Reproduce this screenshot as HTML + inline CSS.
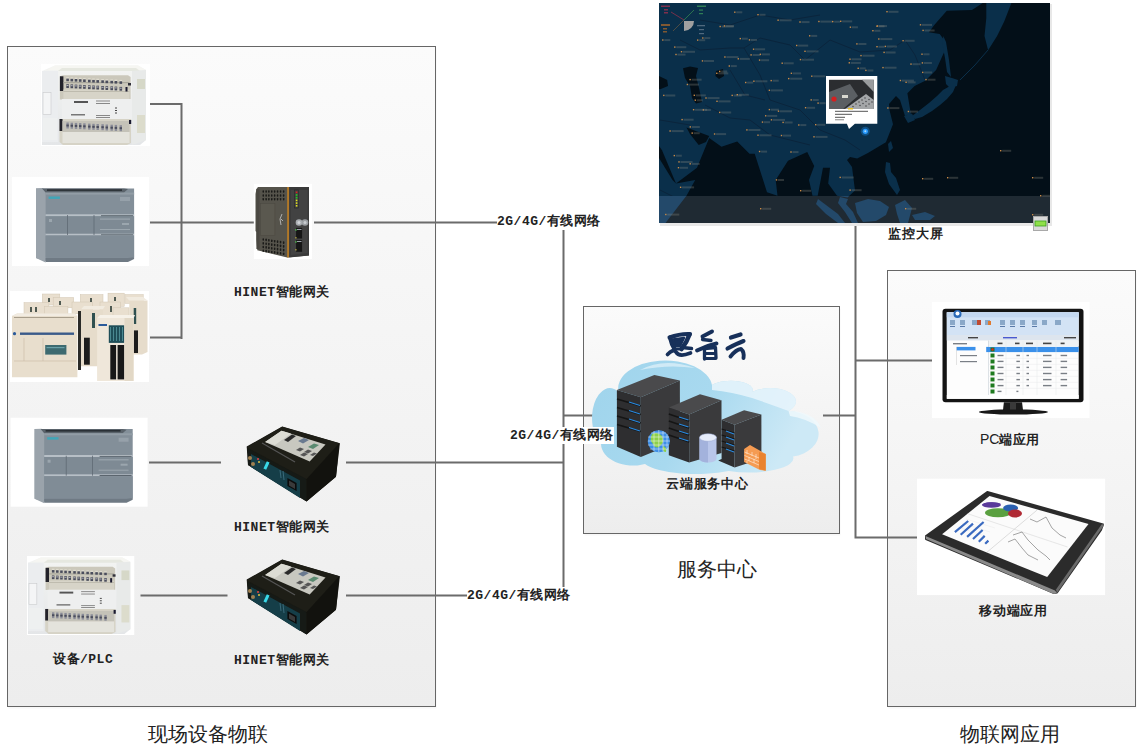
<!DOCTYPE html>
<html><head><meta charset="utf-8">
<style>
html,body{margin:0;padding:0;background:#fff;width:1143px;height:752px;overflow:hidden;position:relative}
.t{position:absolute;white-space:nowrap;color:#222;font-family:"Liberation Mono",monospace;font-weight:bold;font-size:13px;line-height:16px;letter-spacing:0.5px}
.big{position:absolute;white-space:nowrap;color:#222;font-family:"Liberation Serif",serif;font-size:20px;line-height:22px}
.lbl{background:#fff}
svg{position:absolute;left:0;top:0}
</style></head><body>
<svg width="1143" height="752" viewBox="0 0 1143 752">
<defs>
<linearGradient id="pg" x1="0" y1="0" x2="0" y2="1">
<stop offset="0" stop-color="#fbfbfb"/><stop offset="1" stop-color="#ededed"/>
</linearGradient>
</defs>
<!-- panels -->
<rect x="8.5" y="48.5" width="428" height="660" fill="#f4f4f4" opacity="0.6"/>
<rect x="7.5" y="46.5" width="428" height="660" fill="url(#pg)" stroke="#666" stroke-width="1"/>
<rect x="584.5" y="308.5" width="256" height="227" fill="#f4f4f4" opacity="0.6"/>
<rect x="583.5" y="306.5" width="256" height="227" fill="url(#pg)" stroke="#666" stroke-width="1"/>
<rect x="888.5" y="272.5" width="248" height="436" fill="#f4f4f4" opacity="0.6"/>
<rect x="887.5" y="270.5" width="248" height="436" fill="url(#pg)" stroke="#666" stroke-width="1"/>
<!-- lines -->
<g stroke="#6b6b6b" stroke-width="2" fill="none">
<path d="M150 104 H182 M181.5 103 V339 M150 222.5 H254 M150 337.5 H182"/>
<path d="M314 222.5 H497 M563.5 222 V595 M563 415.5 H595"/>
<path d="M149 462.5 H221 M346 462.5 H563.5"/>
<path d="M140.5 595.5 H227.5 M346 595.5 H467"/>
<path d="M855.5 224 V538.5 M856 360.5 H934 M823 415.5 H856 M855 537.5 H917"/>
</g>
<!-- cloud -->
<defs>
<linearGradient id="cg" x1="0" y1="0" x2="1" y2="0.3">
<stop offset="0" stop-color="#9fd4ec"/><stop offset="0.55" stop-color="#a8d9ef"/><stop offset="1" stop-color="#cde9f6"/>
</linearGradient>
<linearGradient id="cg2" x1="0" y1="0" x2="0" y2="1">
<stop offset="0" stop-color="#ffffff" stop-opacity="0.85"/><stop offset="1" stop-color="#ffffff" stop-opacity="0"/>
</linearGradient>
</defs>
<path d="M601 444 A16 27 0 0 1 618.5 392 A47 28 0 0 1 712 385 A22 9 0 0 1 752 392 A21 11 0 0 1 788.5 411 A32 23 0 0 1 793 456.5 A45 14 0 0 1 728.7 471 A55 16 0 0 1 645 464 A32 22 0 0 1 601 444 Z" fill="url(#cg)"/>
<path d="M712 385 A22 9 0 0 1 752 392 A21 11 0 0 1 788.5 411 Q770 404 752 398 Q732 392 712 390 Z" fill="#e8f5fb" opacity="0.85"/>
<path d="M788.5 411 A32 23 0 0 1 821 428 Q805 418 790 416 Z" fill="#eef8fc" opacity="0.85"/>
<path d="M640 370 Q664 357 695 368 Q668 364 640 370 Z" fill="#e2f2fa" opacity="0.7"/>
<!-- server 1 -->
<path d="M616.9 390.1 L654.4 374.9 L679.9 380.5 L640.8 397.3 Z" fill="#4a4a4c"/>
<path d="M616.9 390.1 L640.8 397.3 V457.1 L616.9 446.7 Z" fill="#2e2e30"/>
<path d="M640.8 397.3 L679.9 380.5 V441 L640.8 457.1 Z" fill="#3a3a3c"/>
<g stroke="#151515" stroke-width="1.6"><path d="M617 399 L640.8 406 M617 407.5 L640.8 414.5 M617 416 L640.8 423 M617 424.5 L640.8 431.5"/></g>
<g stroke="#2a8ae0" stroke-width="1.3"><path d="M629 402 L640 405.5 M629 410.5 L640 414 M629 419 L640 422.5 M629 427.5 L640 431"/></g>
<!-- server 2 -->
<path d="M668.8 407.4 L700 394.2 L721.5 400.2 L689.2 414.6 Z" fill="#4a4a4c"/>
<path d="M668.8 407.4 L689.2 414.6 V462.5 L668.8 455.3 Z" fill="#2e2e30"/>
<path d="M689.2 414.6 L721.5 400.2 V452.9 L689.2 462.5 Z" fill="#3a3a3c"/>
<g stroke="#151515" stroke-width="1.4"><path d="M668.8 414 L689.2 421 M668.8 421 L689.2 428 M668.8 428 L689.2 435 M668.8 435 L689.2 442"/></g>
<g stroke="#2a8ae0" stroke-width="1.2"><path d="M679 417 L688.5 420 M679 424 L688.5 427 M679 431 L688.5 434 M679 438 L688.5 441"/></g>
<!-- server 3 -->
<path d="M721.6 419.8 L744.1 410.3 L761.4 414.6 L734.6 424.8 Z" fill="#4a4a4c"/>
<path d="M721.6 419.8 L734.6 424.8 V467.4 L718.2 460.4 L721.6 459 Z" fill="#2e2e30"/>
<path d="M734.6 424.8 L761.4 414.6 V458.7 L734.6 467.4 Z" fill="#3a3a3c"/>
<g stroke="#151515" stroke-width="1.2"><path d="M721.6 429 L734.6 433 M721.6 435 L734.6 439 M721.6 441 L734.6 445 M721.6 447 L734.6 451"/></g>
<g stroke="#2a8ae0" stroke-width="1.1"><path d="M726 431 L734 434 M726 437 L734 440 M726 443 L734 446 M726 449 L734 452"/></g>
<!-- globe -->
<circle cx="658.8" cy="441.2" r="11" fill="#3d8fe6"/>
<path d="M652 434 Q658 431 662 436 Q665 442 660 446 Q656 450 653 444 Q649 440 652 434 Z" fill="#8ed04a"/>
<path d="M663 446 Q667 447 666 452 Q662 452 663 446 Z" fill="#8ed04a"/>
<g stroke="#ffffff" stroke-width="0.6" fill="none" opacity="0.8"><path d="M648 437 H669 M648 441 H670 M648 445 H669 M650 449 H667 M651 433 H666"/><path d="M654 431 V451 M658.8 430 V452 M663 431 V451 M667 434 V448"/></g>
<!-- cylinder -->
<path d="M699.5 437.5 V459 A8.5 3.5 0 0 0 716.5 459 V437.5 Z" fill="#b9c6ea"/>
<path d="M699.5 437.5 V459 A8.5 3.5 0 0 0 708 462.5 V441 A8.5 3.5 0 0 1 699.5 437.5 Z" fill="#a3b2dc"/>
<ellipse cx="708" cy="437.5" rx="8.5" ry="3.8" fill="#e6ecfa" stroke="#9aa8d0" stroke-width="0.5"/>
<!-- firewall -->
<path d="M744.1 449 L750 445 L765.7 454 V470.8 L760 470 L744.1 462 Z" fill="#f59b52"/>
<path d="M759 452 L765.7 454 V470.8 L759 469 Z" fill="#e9832f"/>
<g stroke="#fff0e0" stroke-width="0.6"><path d="M744.5 452 L759 458 M744.5 455.5 L759 461.5 M744.5 459 L759 465 M747 450 V454 M752 452 V456 M756 454 V459 M749 457 V461 M754 459 V463 M747 461 V463"/></g>
<!-- logo -->
<g stroke="#17305a" stroke-linecap="round" stroke-linejoin="round" fill="none">
<path d="M669.5 337.5 Q680 333.5 690 334" stroke-width="4.1"/>
<path d="M670 337.5 Q671.5 344.5 674.5 349" stroke-width="4.1"/>
<path d="M689.5 334.5 Q686.5 343 681.5 349" stroke-width="4.5"/>
<path d="M674.5 349 H681.5" stroke-width="2.9"/>
<path d="M673 339.5 L684 338 L680 346 L675 346 Z" fill="#17305a" stroke-width="2.4"/>
<path d="M667.5 354.5 Q673 348.5 676 352 Q679 357.5 690.5 353" stroke-width="3.7"/>
<path d="M682.5 347.5 L691.5 348.5" stroke-width="3.5"/>
<path d="M702.5 336.5 L712 331.5" stroke-width="3.9"/>
<path d="M702.5 339.5 L711 340.5" stroke-width="3.3"/>
<path d="M697 350.5 Q707 345.5 716.5 343.5" stroke-width="3.9"/>
<path d="M704.5 348.5 V359" stroke-width="3.3"/>
<path d="M704.5 348.5 L715.5 347.5 L716 358" stroke-width="3.3"/>
<path d="M704.5 353.5 H715.5 M704.5 358.5 H715.5" stroke-width="2.9"/>
<path d="M731 337.5 L740.5 334.5" stroke-width="4.3"/>
<path d="M727.5 348.5 Q737 343.5 743.5 341" stroke-width="4.1"/>
<path d="M730.5 356.5 Q736 349.5 741 349 Q744.5 352 743.5 358" stroke-width="3.9"/>
</g>
<!-- image placeholders -->
<defs>
<linearGradient id="mbody" x1="0" y1="0" x2="0" y2="1"><stop offset="0" stop-color="#f3f4f2"/><stop offset="1" stop-color="#e4e6e8"/></linearGradient>
</defs>
<g id="mitsu">
<rect x="41" y="64" width="109" height="82" fill="#fff"/>
<path d="M42 71 L55 65.5 H138 L146 70 V140 L140 145 H42 Z" fill="url(#mbody)"/>
<path d="M55 65.5 H138 L146 70 H47 Z" fill="#f6f6f2"/>
<path d="M62 68 H136 L140 71 H58 Z" fill="#e0e2d8" opacity="0.7"/>
<rect x="42" y="71" width="16" height="71" fill="#ebedef"/>
<rect x="43" y="92.5" width="8" height="22" fill="#f4f5f6" stroke="#c8cacc" stroke-width="0.6"/>
<rect x="43" y="118" width="14" height="22" fill="#eef0f0"/>
<!-- top strip -->
<path d="M59.9 76.3 L63 75.2 H128 L130.6 77 V99.4 H59.9 Z" fill="#cbc8bb"/>
<rect x="59.9" y="76.3" width="3.5" height="14.7" fill="#22222a"/>
<rect x="63.4" y="82" width="66" height="1.2" fill="#a9a79c"/>
<rect x="63.4" y="89.5" width="66" height="9.9" fill="#d7d4c8"/>
<rect x="63.4" y="91" width="66" height="0.8" fill="#b8b5a8"/>
<rect x="66.3" y="77.2" width="2.6" height="1.6" fill="#e0ddd0"/><rect x="66.3" y="78.6" width="2.6" height="2.6" fill="#4a4d5c"/><rect x="66.3" y="84.2" width="2.6" height="3.8" fill="#4a4d5c"/><rect x="66.5" y="85.0" width="2" height="1" fill="#b8b8c0"/><rect x="70.5" y="77.4" width="2.6" height="1.6" fill="#e0ddd0"/><rect x="70.5" y="78.8" width="2.6" height="2.6" fill="#4a4d5c"/><rect x="70.5" y="84.4" width="2.6" height="3.8" fill="#4a4d5c"/><rect x="70.7" y="85.2" width="2" height="1" fill="#b8b8c0"/><rect x="74.7" y="77.6" width="2.6" height="1.6" fill="#e0ddd0"/><rect x="74.7" y="79.0" width="2.6" height="2.6" fill="#4a4d5c"/><rect x="74.7" y="84.6" width="2.6" height="3.8" fill="#4a4d5c"/><rect x="74.9" y="85.4" width="2" height="1" fill="#b8b8c0"/><rect x="78.9" y="77.8" width="2.6" height="1.6" fill="#e0ddd0"/><rect x="78.9" y="79.2" width="2.6" height="2.6" fill="#4a4d5c"/><rect x="78.9" y="84.8" width="2.6" height="3.8" fill="#4a4d5c"/><rect x="79.1" y="85.6" width="2" height="1" fill="#b8b8c0"/><rect x="83.1" y="78.0" width="2.6" height="1.6" fill="#e0ddd0"/><rect x="83.1" y="79.4" width="2.6" height="2.6" fill="#4a4d5c"/><rect x="83.1" y="85.0" width="2.6" height="3.8" fill="#4a4d5c"/><rect x="83.3" y="85.8" width="2" height="1" fill="#b8b8c0"/><rect x="88.0" y="78.3" width="2.6" height="1.6" fill="#e0ddd0"/><rect x="88.0" y="79.7" width="2.6" height="2.6" fill="#4a4d5c"/><rect x="88.0" y="85.3" width="2.6" height="3.8" fill="#4a4d5c"/><rect x="88.2" y="86.1" width="2" height="1" fill="#b8b8c0"/><rect x="92.2" y="78.5" width="2.6" height="1.6" fill="#e0ddd0"/><rect x="92.2" y="79.9" width="2.6" height="2.6" fill="#4a4d5c"/><rect x="92.2" y="85.5" width="2.6" height="3.8" fill="#4a4d5c"/><rect x="92.4" y="86.3" width="2" height="1" fill="#b8b8c0"/><rect x="96.4" y="78.7" width="2.6" height="1.6" fill="#e0ddd0"/><rect x="96.4" y="80.1" width="2.6" height="2.6" fill="#4a4d5c"/><rect x="96.4" y="85.7" width="2.6" height="3.8" fill="#4a4d5c"/><rect x="96.6" y="86.5" width="2" height="1" fill="#b8b8c0"/><rect x="101.3" y="79.0" width="2.6" height="1.6" fill="#e0ddd0"/><rect x="101.3" y="80.3" width="2.6" height="2.6" fill="#4a4d5c"/><rect x="101.3" y="86.0" width="2.6" height="3.8" fill="#4a4d5c"/><rect x="101.5" y="86.8" width="2" height="1" fill="#b8b8c0"/><rect x="105.5" y="79.2" width="2.6" height="1.6" fill="#e0ddd0"/><rect x="105.5" y="80.6" width="2.6" height="2.6" fill="#4a4d5c"/><rect x="105.5" y="86.2" width="2.6" height="3.8" fill="#4a4d5c"/><rect x="105.7" y="87.0" width="2" height="1" fill="#b8b8c0"/><rect x="110.4" y="79.4" width="2.6" height="1.6" fill="#e0ddd0"/><rect x="110.4" y="80.8" width="2.6" height="2.6" fill="#4a4d5c"/><rect x="110.4" y="86.4" width="2.6" height="3.8" fill="#4a4d5c"/><rect x="110.6" y="87.2" width="2" height="1" fill="#b8b8c0"/><rect x="114.6" y="79.6" width="2.6" height="1.6" fill="#e0ddd0"/><rect x="114.6" y="81.0" width="2.6" height="2.6" fill="#4a4d5c"/><rect x="114.6" y="86.6" width="2.6" height="3.8" fill="#4a4d5c"/><rect x="114.8" y="87.4" width="2" height="1" fill="#b8b8c0"/><rect x="119.5" y="79.9" width="2.6" height="1.6" fill="#e0ddd0"/><rect x="119.5" y="81.3" width="2.6" height="2.6" fill="#4a4d5c"/><rect x="119.5" y="86.9" width="2.6" height="3.8" fill="#4a4d5c"/><rect x="119.7" y="87.7" width="2" height="1" fill="#b8b8c0"/>
<rect x="125.5" y="87" width="2" height="4.5" fill="#1a1a30"/>
<rect x="128" y="83" width="3" height="2.5" fill="#30303a"/>
<!-- middle face -->
<rect x="62" y="99" width="70" height="20" fill="#eeefef"/>
<rect x="74" y="101" width="14" height="2" fill="#555"/>
<g fill="#888"><rect x="96" y="100.5" width="14" height="1"/><rect x="96" y="103" width="14" height="1"/><rect x="96" y="115" width="14" height="1"/><rect x="96" y="117" width="14" height="1"/></g>
<g fill="#444"><rect x="115" y="107.5" width="2" height="1"/><rect x="115" y="110" width="2" height="1"/><rect x="115" y="112.5" width="2" height="1"/></g>
<rect x="71" y="114" width="14" height="1.5" fill="#777"/>
<!-- bottom strip -->
<path d="M59.5 119 H131 V143 L127 145 H63 L59.5 142 Z" fill="#d6d3c6"/>
<rect x="59.5" y="119" width="3" height="12" fill="#22222a"/>
<rect x="62.5" y="121" width="67" height="11" fill="#c4c2b8"/>
<rect x="66.4" y="122.5" width="2.4" height="6" fill="#8a8c98"/><rect x="66.4" y="124.5" width="2.4" height="2" fill="#4a4d5c"/><rect x="70.6" y="122.7" width="2.4" height="6" fill="#8a8c98"/><rect x="70.6" y="124.7" width="2.4" height="2" fill="#4a4d5c"/><rect x="74.8" y="122.9" width="2.4" height="6" fill="#8a8c98"/><rect x="74.8" y="124.9" width="2.4" height="2" fill="#4a4d5c"/><rect x="79.0" y="123.1" width="2.4" height="6" fill="#8a8c98"/><rect x="79.0" y="125.1" width="2.4" height="2" fill="#4a4d5c"/><rect x="83.2" y="123.3" width="2.4" height="6" fill="#8a8c98"/><rect x="83.2" y="125.3" width="2.4" height="2" fill="#4a4d5c"/><rect x="88.1" y="123.6" width="2.4" height="6" fill="#8a8c98"/><rect x="88.1" y="125.6" width="2.4" height="2" fill="#4a4d5c"/><rect x="92.3" y="123.8" width="2.4" height="6" fill="#8a8c98"/><rect x="92.3" y="125.8" width="2.4" height="2" fill="#4a4d5c"/><rect x="96.5" y="124.0" width="2.4" height="6" fill="#8a8c98"/><rect x="96.5" y="126.0" width="2.4" height="2" fill="#4a4d5c"/><rect x="101.4" y="124.2" width="2.4" height="6" fill="#8a8c98"/><rect x="101.4" y="126.2" width="2.4" height="2" fill="#4a4d5c"/><rect x="105.6" y="124.5" width="2.4" height="6" fill="#8a8c98"/><rect x="105.6" y="126.5" width="2.4" height="2" fill="#4a4d5c"/><rect x="110.5" y="124.7" width="2.4" height="6" fill="#8a8c98"/><rect x="110.5" y="126.7" width="2.4" height="2" fill="#4a4d5c"/><rect x="114.7" y="124.9" width="2.4" height="6" fill="#8a8c98"/><rect x="114.7" y="126.9" width="2.4" height="2" fill="#4a4d5c"/><rect x="119.6" y="125.2" width="2.4" height="6" fill="#8a8c98"/><rect x="119.6" y="127.2" width="2.4" height="2" fill="#4a4d5c"/>
<rect x="62.5" y="132" width="67" height="11" fill="#e4e3dc"/>
<rect x="129" y="120" width="2.2" height="4" fill="#1a1a30"/>
<!-- right side -->
<path d="M132 71 L146 70 V140 L132 145 Z" fill="#e8eae9"/>
<rect x="137" y="79" width="8" height="10" fill="#d6d8c8"/>
<rect x="137" y="115" width="8" height="18" fill="#dcdccc"/>
</g>
<g id="siem">
<rect x="12" y="177" width="137" height="89" fill="#fff"/>
<path d="M36 188.4 H134.1 V257.2 L128 261 H45.6 L36 258 Z" fill="#838f99"/>
<path d="M36 188.4 L43 188 L45.6 192 V262.6 L36 258 Z" fill="#9aa3ab"/>
<path d="M42 188.4 H124 L128 189 L124 192.6 H45.6 Z" fill="#5a636b"/><g fill="#2a3036"><rect x="47" y="189.3" width="75" height="1.6"/></g>
<rect x="45.6" y="192.6" width="88.5" height="2" fill="#929da6"/>
<rect x="48.6" y="196.5" width="11.3" height="2.4" fill="#3fa6b8"/>
<rect x="120" y="197" width="10" height="4" fill="#9ea8b0" opacity="0.7"/>
<rect x="45.6" y="214.3" width="88.5" height="2" fill="#b7bfc6"/>
<rect x="45.6" y="233.5" width="88.5" height="2" fill="#b7bfc6"/>
<rect x="45.6" y="216.3" width="88.5" height="17.2" fill="#7e8a94"/>
<rect x="67.2" y="215" width="0.8" height="20" fill="#5f6a74"/>
<rect x="93.6" y="215" width="0.8" height="20" fill="#5f6a74"/>
<g fill="#5b656e"><rect x="101" y="215.2" width="32" height="1"/><rect x="101" y="234.3" width="32" height="1"/></g>
<g fill="#a8b2ba" opacity="0.7"><rect x="100" y="218.5" width="30" height="1.2"/><rect x="122" y="223" width="7" height="2"/><rect x="100" y="229" width="30" height="1"/><rect x="49" y="219" width="3" height="3"/></g>
<rect x="45.6" y="235.5" width="88.5" height="22" fill="#808c96"/>
<path d="M45.6 258 H128 L134.1 257.2 V259 L128 262 H45.6 Z" fill="#6f7a84"/>
</g>
<g id="gwbox">
<path d="M246.7 446.5 L282.2 426.5 L339.9 443.2 L336 476.7 L306.5 501.6 L248 464.9 Z" fill="#1a1a14"/>
<path d="M246.7 447.2 L282.2 426.8 L339.3 443.2 L306.5 479.3 Z" fill="#1e1e17"/>
<path d="M247.4 448.5 L306.5 479.3 V501.6 L248 464.9 Z" fill="#161a16"/>
<path d="M251 454 L300 480.5 V498 L251 467 Z" fill="#153e48"/>
<path d="M306.5 479.3 L339.3 443.2 L336 476.7 L306.5 501.6 Z" fill="#12120e"/>
<path d="M265.1 441.9 L281.5 430.7 L325.5 444.5 L309.7 461.6 Z" fill="#c8c8c0"/>
<path d="M265.1 441.9 L281.5 430.7 L291 433.5 L275 445 Z" fill="#dcdcd4"/>
<path d="M284 440 L292 434.5 L296 436 L288 442 Z" fill="#2a2a2a"/>
<path d="M298 441 L304 438 L309 440 L303 443.5 Z" fill="#6a7a90"/>
<path d="M308 447 L314 443.5 L319 445 L313 449 Z" fill="#5a8a70"/><g fill="#555"><path d="M296 450 L300 447.5 L304 449 L300 451.5 Z"/><path d="M304 452 L308 449.5 L312 451 L308 453.5 Z"/><path d="M300 455 L304 452.5 L308 454 L304 456.5 Z"/><path d="M310 455 L314 452.5 L317 453.5 L313 456 Z"/></g>
<path d="M262 443 L295 462" stroke="#555" stroke-width="1.2"/>
<rect x="265" y="461.6" width="3" height="8" fill="#3ad8e8" transform="rotate(25 266.5 465.6)"/>
<path d="M287.4 478 L296.6 483 V491 L287.4 486 Z" fill="#0c0c0c"/>
<path d="M289 480.5 L295 484 V489 L289 485.5 Z" fill="#3a3a3a"/>
<circle cx="250" cy="458" r="2" fill="#a08050"/>
<circle cx="253" cy="464" r="2" fill="#a08050"/>
<circle cx="258" cy="459" r="1" fill="#e04040"/>
<circle cx="259" cy="462" r="1" fill="#e0c040"/>
<g stroke="#3a6a7a" stroke-width="1"><path d="M280 470 L281 478 M283 471 L284 480"/></g>
</g>
<g id="gwdin">
<rect x="253.8" y="183.8" width="58.2" height="75.2" fill="#fff"/>
<path d="M258 187 H309 V255.5 L287.1 257.5 L257.3 250.2 L256.4 240 V232 L255.5 231 V194 L256.4 189 Z" fill="#55534b"/>
<path d="M289.2 187 H309 V255.5 L289.2 257.5 Z" fill="#3a3a3a"/>
<path d="M291 190 H307.5 V253 L291 255 Z" fill="#424242"/>
<rect x="287.1" y="187" width="1.9" height="70.5" fill="#b07828"/>
<rect x="256.4" y="189" width="3" height="60" fill="#4a4842"/>
<g fill="#1a1a18"><rect x="262.5" y="190.2" width="1.5" height="2.6" rx="0.7"/><rect x="262.5" y="194.2" width="1.5" height="2.6" rx="0.7"/><rect x="262.5" y="197.9" width="1.5" height="2.6" rx="0.7"/><rect x="265.4" y="190.2" width="1.5" height="2.6" rx="0.7"/><rect x="265.4" y="194.2" width="1.5" height="2.6" rx="0.7"/><rect x="265.4" y="197.9" width="1.5" height="2.6" rx="0.7"/><rect x="268.1" y="190.2" width="1.5" height="2.6" rx="0.7"/><rect x="268.1" y="194.2" width="1.5" height="2.6" rx="0.7"/><rect x="268.1" y="197.9" width="1.5" height="2.6" rx="0.7"/><rect x="271.0" y="190.2" width="1.5" height="2.6" rx="0.7"/><rect x="271.0" y="194.2" width="1.5" height="2.6" rx="0.7"/><rect x="271.0" y="197.9" width="1.5" height="2.6" rx="0.7"/><rect x="273.9" y="190.2" width="1.5" height="2.6" rx="0.7"/><rect x="273.9" y="194.2" width="1.5" height="2.6" rx="0.7"/><rect x="273.9" y="197.9" width="1.5" height="2.6" rx="0.7"/><rect x="276.8" y="190.2" width="1.5" height="2.6" rx="0.7"/><rect x="276.8" y="194.2" width="1.5" height="2.6" rx="0.7"/><rect x="276.8" y="197.9" width="1.5" height="2.6" rx="0.7"/><rect x="279.8" y="190.2" width="1.5" height="2.6" rx="0.7"/><rect x="279.8" y="194.2" width="1.5" height="2.6" rx="0.7"/><rect x="279.8" y="197.9" width="1.5" height="2.6" rx="0.7"/><rect x="282.9" y="190.2" width="1.5" height="2.6" rx="0.7"/><rect x="282.9" y="194.2" width="1.5" height="2.6" rx="0.7"/><rect x="282.9" y="197.9" width="1.5" height="2.6" rx="0.7"/><rect x="262.5" y="238.2" width="1.5" height="2.6" rx="0.7"/><rect x="262.5" y="242.0" width="1.5" height="2.6" rx="0.7"/><rect x="262.5" y="245.7" width="1.5" height="2.6" rx="0.7"/><rect x="262.5" y="249.4" width="1.5" height="2.6" rx="0.7"/><rect x="265.4" y="238.6" width="1.5" height="2.6" rx="0.7"/><rect x="265.4" y="242.4" width="1.5" height="2.6" rx="0.7"/><rect x="265.4" y="246.1" width="1.5" height="2.6" rx="0.7"/><rect x="265.4" y="249.8" width="1.5" height="2.6" rx="0.7"/><rect x="268.1" y="239.0" width="1.5" height="2.6" rx="0.7"/><rect x="268.1" y="242.8" width="1.5" height="2.6" rx="0.7"/><rect x="268.1" y="246.5" width="1.5" height="2.6" rx="0.7"/><rect x="268.1" y="250.2" width="1.5" height="2.6" rx="0.7"/><rect x="271.0" y="239.5" width="1.5" height="2.6" rx="0.7"/><rect x="271.0" y="243.3" width="1.5" height="2.6" rx="0.7"/><rect x="271.0" y="247.0" width="1.5" height="2.6" rx="0.7"/><rect x="271.0" y="250.7" width="1.5" height="2.6" rx="0.7"/><rect x="273.9" y="239.9" width="1.5" height="2.6" rx="0.7"/><rect x="273.9" y="243.7" width="1.5" height="2.6" rx="0.7"/><rect x="273.9" y="247.4" width="1.5" height="2.6" rx="0.7"/><rect x="273.9" y="251.1" width="1.5" height="2.6" rx="0.7"/><rect x="276.8" y="240.3" width="1.5" height="2.6" rx="0.7"/><rect x="276.8" y="244.1" width="1.5" height="2.6" rx="0.7"/><rect x="276.8" y="247.8" width="1.5" height="2.6" rx="0.7"/><rect x="276.8" y="251.5" width="1.5" height="2.6" rx="0.7"/><rect x="279.8" y="240.8" width="1.5" height="2.6" rx="0.7"/><rect x="279.8" y="244.6" width="1.5" height="2.6" rx="0.7"/><rect x="279.8" y="248.3" width="1.5" height="2.6" rx="0.7"/><rect x="279.8" y="252.0" width="1.5" height="2.6" rx="0.7"/><rect x="282.9" y="241.3" width="1.5" height="2.6" rx="0.7"/><rect x="282.9" y="245.1" width="1.5" height="2.6" rx="0.7"/><rect x="282.9" y="248.8" width="1.5" height="2.6" rx="0.7"/><rect x="282.9" y="252.5" width="1.5" height="2.6" rx="0.7"/></g>
<rect x="260.5" y="203.7" width="14.4" height="32" fill="#5a584f" stroke="#4a4840" stroke-width="0.5"/>
<g><rect x="295.8" y="191.5" width="1.6" height="1.6" fill="#e02020"/><rect x="295.8" y="194.2" width="1.6" height="1.6" fill="#20d020"/><rect x="295.8" y="196.9" width="1.6" height="1.6" fill="#20d020"/><rect x="295.8" y="199.6" width="1.6" height="1.6" fill="#e0e020"/><rect x="295.8" y="202.3" width="1.6" height="1.6" fill="#e0e020"/><rect x="295.8" y="205" width="1.6" height="1.6" fill="#e0e020"/></g>
<rect x="294.5" y="190" width="4" height="18" fill="none" stroke="#222" stroke-width="0.5"/>
<circle cx="299" cy="222.5" r="3.3" fill="#a8acb0"/><circle cx="305" cy="222.5" r="3.3" fill="#9a9ea2"/>
<circle cx="299" cy="222.5" r="1.5" fill="#d0d4d8"/><circle cx="305" cy="222.5" r="1.5" fill="#c8ccd0"/>
<rect x="296.1" y="227.9" width="6" height="10.6" fill="#161616"/><rect x="297" y="229" width="4.5" height="1" fill="#9aa0a8"/>
<rect x="296.1" y="240.1" width="6" height="11.7" fill="#161616"/><rect x="297" y="241" width="4.5" height="1" fill="#9aa0a8"/>
<rect x="295.5" y="229" width="0.9" height="1.8" fill="#50e050"/><rect x="295.5" y="237" width="0.9" height="1.5" fill="#e0d040"/>
<rect x="295.5" y="241" width="0.9" height="1.8" fill="#50e050"/><rect x="295.5" y="249" width="0.9" height="1.5" fill="#e0d040"/>
<path d="M282 214 L280 219 L281 225 M281 219 L283 221" stroke="#c8c8c8" stroke-width="0.8" fill="none"/>
</g>
<g id="omron">
<rect x="10" y="291" width="139" height="91" fill="#fff"/>
<g fill="#e9dfcf" stroke="#d2c6b2" stroke-width="0.5">
<rect x="42.3" y="294" width="17.5" height="11"/><rect x="53.2" y="297.5" width="20.5" height="10.3"/><rect x="80.3" y="294.6" width="22.7" height="13.2"/><rect x="108" y="293.2" width="16.2" height="13.1"/><rect x="124.9" y="294.6" width="18.3" height="8.8"/>
<rect x="24" y="302.7" width="24.9" height="12.4"/><rect x="44.5" y="306.3" width="23.4" height="8.8"/><rect x="72" y="302" width="20.5" height="11.7"/><rect x="100" y="302" width="20.5" height="14.6"/><rect x="113" y="307.8" width="16" height="10.2"/>
</g>
<g fill="#505a52"><rect x="48" y="298" width="2" height="4"/><rect x="59" y="301" width="2" height="4"/><rect x="90" y="298" width="2" height="4"/><rect x="114" y="297" width="2" height="4"/><rect x="30" y="307" width="2" height="5"/><rect x="35" y="307" width="2" height="5"/><rect x="110" y="306" width="2" height="6"/></g>
<path d="M129.3 300.5 H147.5 V352 L142 354.6 H129.3 Z" fill="#e6dccb"/>
<path d="M129.3 300.5 H147.5 L143 297 H126 Z" fill="#f1ebe0"/>
<rect x="133.7" y="308" width="2.5" height="16" fill="#2f5050"/>
<rect x="133.7" y="330.4" width="4.3" height="22.6" fill="#1c1c1c"/>
<path d="M81 309.2 H103 V366.3 H81 Z" fill="#e6dccb"/>
<path d="M78 311 H81 V370 H78 Z" fill="#2a2a28"/>
<path d="M81 309.2 L84 306 H105 L103 309.2 Z" fill="#f1ebe0"/>
<rect x="92" y="313" width="3" height="15" fill="#2f5050"/>
<rect x="84" y="337.7" width="5.8" height="27" fill="#1c1c1c"/>
<path d="M12 316 L17 313.5 H75 L77.4 316 V377.2 H12 Z" fill="#e8decd"/>
<path d="M12 316 L17 313.5 H75 L77.4 316 Z" fill="#f2ece2"/>
<rect x="14" y="317" width="60" height="1" fill="#a89e8c"/>
<rect x="20" y="332.5" width="54" height="2.4" fill="#3a5a8a"/>
<circle cx="14.5" cy="333.7" r="1.6" fill="#2a5a9a"/>
<g stroke="#cdbfaa" stroke-width="0.7"><path d="M24 338 V361 M43 338 V361 M14 361 H76"/></g>
<rect x="45.2" y="345" width="21.2" height="9.6" fill="#3d6a70"/>
<rect x="46.5" y="347" width="18" height="1.2" fill="#6aa0a8"/>
<path d="M97.1 318 H133.7 V380.9 H97.1 Z" fill="#efe7da"/>
<path d="M97.1 318 L100 315 H135 L133.7 318 Z" fill="#f6f1e8"/>
<rect x="98.5" y="324" width="8.5" height="2" fill="#2a5a9a"/>
<rect x="108.8" y="325.3" width="15.4" height="17.6" fill="#1f4e58"/>
<g fill="#4a8890"><rect x="110" y="327" width="1" height="14"/><rect x="113" y="327" width="1" height="14"/><rect x="116" y="327" width="1" height="14"/><rect x="119" y="327" width="1" height="14"/><rect x="122" y="327" width="1" height="14"/></g>
<rect x="110.3" y="345" width="5.8" height="34.4" fill="#181818"/>
<rect x="117.6" y="345" width="6.6" height="34.4" fill="#181818"/>
<rect x="124.5" y="318" width="9" height="62.9" fill="#e2d8c6"/>
</g>
<g id="pc">
<rect x="932" y="302" width="157.5" height="116" fill="#fff"/>
<rect x="942.5" y="308.8" width="141" height="93.4" rx="3" fill="#141414"/>
<rect x="946.8" y="312.3" width="131.9" height="86.5" fill="#fdfdfd"/>
<rect x="946.8" y="312.3" width="131.9" height="22.7" fill="#d3e3f5"/>
<rect x="946.8" y="312.3" width="131.9" height="5" fill="#c4d8f0"/>
<circle cx="957.5" cy="314" r="4" fill="#2a6ab8"/><circle cx="957.5" cy="313.5" r="2" fill="#fff"/>
<g fill="#8aa8c8"><rect x="950" y="320" width="5" height="5"/><rect x="960" y="320" width="5" height="5"/><rect x="972" y="320" width="5" height="5"/><rect x="985" y="320" width="5" height="5"/><rect x="1000" y="320" width="5" height="5"/><rect x="1010" y="320" width="5" height="5"/><rect x="1020" y="320" width="5" height="5"/><rect x="1032" y="320" width="5" height="5"/><rect x="1042" y="320" width="5" height="5"/><rect x="1055" y="320" width="6" height="5"/></g>
<rect x="977" y="320" width="4" height="5" fill="#c04a30"/><rect x="988" y="321" width="3" height="4" fill="#e07a30"/>
<g fill="#5a7aa8"><rect x="950" y="326" width="5" height="1"/><rect x="960" y="326" width="5" height="1"/><rect x="1000" y="326" width="5" height="1"/><rect x="1010" y="326" width="5" height="1"/><rect x="1020" y="326" width="5" height="1"/><rect x="1032" y="326" width="5" height="1"/></g>
<rect x="946.8" y="335" width="131.9" height="5.5" fill="#dde5ee"/>
<rect x="988" y="340.5" width="90.7" height="5.5" fill="#f0f2f4"/>
<rect x="988" y="340.5" width="0.6" height="58" fill="#c8d0d8"/>
<rect x="986.2" y="346.9" width="92.5" height="5.2" fill="#3a90ea"/>
<rect x="956.5" y="346.9" width="19" height="3.5" fill="#3a90ea"/>
<g fill="#1f7a1f"><rect x="990.5" y="353.5" width="4" height="4"/><rect x="990.5" y="359.5" width="4" height="4"/><rect x="990.5" y="365.5" width="4" height="4"/><rect x="990.5" y="371.5" width="4" height="4"/><rect x="990.5" y="377.5" width="4" height="4"/><rect x="990.5" y="383.5" width="4" height="4"/><rect x="990.5" y="389.5" width="4" height="4"/></g>
<rect x="990.5" y="347.5" width="4" height="4" fill="#1f7a1f"/><circle cx="992.5" cy="349.5" r="1.2" fill="#e02020"/>
<g fill="#7a7f86"><rect x="997.5" y="354.8" width="6" height="1.4"/><rect x="1016.4" y="354.8" width="3.5" height="1.4"/><rect x="1026.5" y="354.8" width="2.5" height="1.4"/><rect x="1043" y="354.8" width="8.5" height="1.4"/><rect x="1060.6" y="354.8" width="6.5" height="1.4"/><rect x="997.5" y="360.7" width="6" height="1.4"/><rect x="1016.4" y="360.7" width="3.5" height="1.4"/><rect x="1026.5" y="360.7" width="2.5" height="1.4"/><rect x="1043" y="360.7" width="8.5" height="1.4"/><rect x="1060.6" y="360.7" width="6.5" height="1.4"/><rect x="997.5" y="366.7" width="6" height="1.4"/><rect x="1016.4" y="366.7" width="3.5" height="1.4"/><rect x="1026.5" y="366.7" width="2.5" height="1.4"/><rect x="1043" y="366.7" width="8.5" height="1.4"/><rect x="1060.6" y="366.7" width="6.5" height="1.4"/><rect x="997.5" y="372.8" width="6" height="1.4"/><rect x="1016.4" y="372.8" width="3.5" height="1.4"/><rect x="1026.5" y="372.8" width="2.5" height="1.4"/><rect x="1043" y="372.8" width="8.5" height="1.4"/><rect x="1060.6" y="372.8" width="6.5" height="1.4"/><rect x="997.5" y="378.9" width="6" height="1.4"/><rect x="1016.4" y="378.9" width="3.5" height="1.4"/><rect x="1026.5" y="378.9" width="2.5" height="1.4"/><rect x="1043" y="378.9" width="8.5" height="1.4"/><rect x="1060.6" y="378.9" width="6.5" height="1.4"/><rect x="997.5" y="384.9" width="6" height="1.4"/><rect x="1016.4" y="384.9" width="3.5" height="1.4"/><rect x="1026.5" y="384.9" width="2.5" height="1.4"/><rect x="1043" y="384.9" width="8.5" height="1.4"/><rect x="1060.6" y="384.9" width="6.5" height="1.4"/><rect x="997.5" y="390.7" width="4" height="1.4"/><rect x="1016.4" y="390.7" width="2" height="1.4"/><rect x="997.5" y="342.6" width="5" height="1.6" fill="#444"/><rect x="1015" y="342.6" width="4.5" height="1.6" fill="#444"/><rect x="1026" y="342.6" width="7" height="1.6" fill="#444"/><rect x="1043" y="342.6" width="8.5" height="1.6" fill="#444"/><rect x="1060.6" y="342.6" width="4" height="1.6" fill="#444"/><rect x="953" y="343" width="14" height="1.4"/><rect x="960" y="355" width="17" height="1.2"/><rect x="960" y="361" width="17" height="1.2"/><rect x="968" y="337" width="10" height="1.4" fill="#444"/><rect x="1003" y="337" width="14" height="1.4" fill="#4a5ad0"/><rect x="1064" y="337" width="12" height="1.4" fill="#444"/></g><g stroke="#e6e8ea" stroke-width="0.5"><path d="M988.6 358.3 H1078 M988.6 364.3 H1078 M988.6 370.3 H1078 M988.6 376.3 H1078 M988.6 382.3 H1078 M988.6 388.3 H1078 M1006 341 V395 M1023 341 V395 M1037 341 V395 M1056 341 V395"/></g><rect x="956" y="347" width="0.5" height="18" fill="#c8c8c8"/>
<rect x="946.8" y="395" width="131.9" height="3.8" fill="#ffffff"/>
<path d="M1003.9 402.2 H1022 L1023 410 H1003 Z" fill="#1a1a1a"/>
<rect x="1010" y="402.2" width="6" height="8" fill="#3a3a3a"/>
<ellipse cx="1013.4" cy="412" rx="34.6" ry="2.6" fill="#181818"/>
</g>
<g id="tablet">
<rect x="917" y="478.7" width="188.1" height="116.4" fill="#fff"/>
<path d="M926 536 L987.3 492 L1103 524.5 L1101 530 L1057 592.5 L1054 593 L926 539 Z" fill="#2b2b2b" stroke="#2b2b2b" stroke-width="2" stroke-linejoin="round"/>
<path d="M926 539 L1054 594 L1057 593 L1055 590.5 L925.5 536 Z" fill="#8a8a8a"/>
<path d="M1057 593 L1103.5 526 L1104 524 L1101.5 524.5 L1056 589.5 Z" fill="#6a6a6a"/>
<path d="M942.1 534.3 L989.5 496 L1088.5 523.9 L1047.2 577.1 Z" fill="#fbfbfb"/>
<path d="M1036.9 510.2 L987 552.2" stroke="#c8c8c8" stroke-width="0.6"/>
<path d="M967.7 513.7 L1067.5 547" stroke="#d0d0d0" stroke-width="0.5"/>
<g stroke="#e6e6e6" stroke-width="0.4"><path d="M958 527 L985 536 M962 523 L990 532 M966 519 L995 528"/></g>
<path d="M982 505 A10 3.2 0 0 1 1001 504 L992 507 Z" fill="#5a3aa0"/>
<ellipse cx="991.5" cy="505" rx="9.5" ry="2.8" fill="#5a3a9a"/>
<ellipse cx="998" cy="512.8" rx="13" ry="4.5" fill="#5aa040"/>
<ellipse cx="1010.6" cy="508" rx="7.5" ry="3.6" fill="#2a60b0"/>
<ellipse cx="1015" cy="513.5" rx="7" ry="4" fill="#b02a34"/>
<g stroke="#3a6ac0" stroke-width="2.2" stroke-linecap="butt">
<path d="M954.9 532.1 L968.2 521 M960.7 534.8 L973 523.6 M967.1 536.9 L983.6 522 M973 539 L982.6 530 M978.8 541.7 L984.7 535.9 M985.2 543.8 L988.4 540.6"/>
</g>
<g stroke="#6a6a6a" stroke-width="0.6" fill="none">
<path d="M1030 519 L1037 522 L1046 517 L1052 528 L1060 535 L1066 538"/>
<path d="M1013 535 L1022 532 L1028 540 L1038 550 L1046 556 L1050 560"/>
<path d="M1008 542 L1015 539 L1022 548 L1028 555 L1038 560"/>
</g>
</g>
</g>
<use href="#siem" transform="translate(-1.4 240.7)"/>
<use href="#mitsu" transform="translate(27 556) scale(0.984 0.963) translate(-41 -64)"/>
<use href="#gwbox" transform="translate(0 133)"/>
<!-- map -->
<rect x="660" y="4" width="392" height="222" fill="#e8e8e8"/>
<g id="map">
<clipPath id="mc"><rect x="659" y="3" width="391" height="220"/></clipPath>
<clipPath id="mband"><rect x="659" y="196" width="391" height="27"/></clipPath>
<g clip-path="url(#mc)">
<rect x="659" y="3" width="391" height="220" fill="#030f18"/>
<g fill="#0a2f4a"><g id="land">
<path d="M659 3 H982.7 L972 9.9 L946.8 10.8 L934.3 25.1 L928.9 32.3 L939.7 34.1 L945 41.2 L944.2 52 L936.1 69.9 L925.3 80.7 L914.6 86.1 L907.4 93.3 L911 115 L905 116 L900 100 L896 96 L889 104 L889.5 110 L893 124.3 L885.9 142.3 L867.9 153 L857.2 158.4 L850 157 L847 160 L852 167 L855 190.5 L847.5 197.5 L837 195.7 L828.2 183.5 L830 167.7 L823 167.7 L817.7 195.7 L812.5 195.7 L809 180 L814.2 166 L807.2 152 L788 160.7 L775.7 180 L777.5 195.7 L767 192.2 L754.7 153.7 L749.5 153.7 L737.2 141.5 L721.5 146.7 L709.2 138 L697 167.7 L676 183.5 L695.2 180 L686.5 195.7 L665.5 223 H659 Z"/>
<path d="M986.3 3 L1011.4 3 L1004.2 21.5 L997.1 35.9 L988.1 50.2 L984.5 35.9 L986.3 17.9 Z"/>
<path d="M943.3 36 L946 42 L949 60 L951 77 L947 72 L945 58 L942.5 45 Z"/>
<path d="M945 76 L952 78 L958 80 L957 86 L950 88 L946 84 Z M956 85 L953 92 L947 99 L940 105 L932 111 L922 117 L915 119 L912 116 L920 110 L929 103 L937 96 L943 90 L950 86 Z M904 116 L912 113.5 L915 120 L908 123 Z"/>
<path d="M888 144 L891 141 L893 148 L889 152 Z"/>
<path d="M886 162 L890 163 L891 172 L896 178 L900 190 L897 195 L889 184 L885 172 Z"/>
<path d="M840 197 L848 199 L846 204 L853 212 L858 223 L852 223 L845 212 L838 203 Z"/>
<path d="M855 203 L868 199 L880 201 L889 207 L886 215 L876 221 L863 222 L857 213 Z"/>
<path d="M818 199 L826 205 L838 214 L845 223 L838 223 L826 214 L816 204 Z"/>
<path d="M895 205 L905 200 L912 208 L908 223 L900 223 L897 214 Z"/>
<path d="M912 215 L925 212 L935 216 L930 220 L915 220 Z"/>
</g></g>
<path fill="#030f18" d="M659 146 L662 150.2 L676 183.5 L672.5 180 L659 158 Z"/>
<path fill="#030f18" d="M686.5 127.5 L709.2 136 L706 142 L698.7 145 L690 134 Z"/>
<path fill="#030f18" d="M683 68.2 L690 66.5 L698 68 L696 76 L699 88 L702 102 L696 103.5 L692 98 L690 86 L685 78 Z"/>
<path fill="#030f18" d="M659 76 L667.2 80 L668 86 L660.2 89.2 L659 89 Z"/>
<path fill="#030f18" d="M716 71 L723 69 L724.1 76 L719 79 L715.4 76 Z"/>
<path stroke="#0a2f4a" stroke-width="1" fill="none" d="M988 50 L975 65 L960 80"/>
<g stroke="#0a2238" stroke-width="0.8" fill="none">
<path d="M744 48 L760 38 L790 45 L805 60 L830 40 L860 52 L890 50 L905 40 L915 55 L925 80"/>
<path d="M680 40 L700 50 L730 48 L744 48 L760 75 L770 100 L800 110 L820 130 L845 140 L860 150"/>
<path d="M705 105 L730 118 L750 120 L770 135 L790 140 L810 145"/>
<path d="M700 20 L730 25 L760 15 L790 20 L820 15"/>
<path d="M660 120 L690 125 M730 70 L745 95 L765 100 M660 190 L680 200 L700 210"/>
</g>
<g clip-path="url(#mband)">
<rect x="659" y="196" width="391" height="27" fill="#1f2a33"/>
<use href="#land" fill="#23496a"/>
</g>
<g><rect x="748.8" y="39.2" width="1.4" height="1.4" fill="#c88a48"/><rect x="751.0" y="39.0" width="6" height="2" fill="#8a8a80" opacity="0.3"/><rect x="681.4" y="118.9" width="1.4" height="1.4" fill="#c88a48"/><rect x="683.6" y="118.7" width="10" height="2" fill="#8a8a80" opacity="0.3"/><rect x="719.5" y="25.8" width="1.4" height="1.4" fill="#c88a48"/><rect x="721.7" y="25.6" width="12" height="2" fill="#8a8a80" opacity="0.3"/><rect x="775.8" y="179.2" width="1.4" height="1.4" fill="#c88a48"/><rect x="778.0" y="179.0" width="6" height="2" fill="#8a8a80" opacity="0.3"/><rect x="818.2" y="20.8" width="1.4" height="1.4" fill="#c88a48"/><rect x="820.4" y="20.6" width="12" height="2" fill="#8a8a80" opacity="0.3"/><rect x="675.3" y="53.8" width="1.4" height="1.4" fill="#c88a48"/><rect x="677.5" y="53.6" width="8" height="2" fill="#8a8a80" opacity="0.3"/><rect x="739.6" y="37.9" width="1.4" height="1.4" fill="#c88a48"/><rect x="741.8" y="37.7" width="6" height="2" fill="#8a8a80" opacity="0.3"/><rect x="815.0" y="124.0" width="1.4" height="1.4" fill="#c88a48"/><rect x="817.2" y="123.8" width="8" height="2" fill="#8a8a80" opacity="0.3"/><rect x="689.6" y="126.2" width="1.4" height="1.4" fill="#c88a48"/><rect x="691.8" y="126.0" width="8" height="2" fill="#8a8a80" opacity="0.3"/><rect x="761.8" y="121.4" width="1.4" height="1.4" fill="#c88a48"/><rect x="764.0" y="121.2" width="6" height="2" fill="#8a8a80" opacity="0.3"/><rect x="813.3" y="136.1" width="1.4" height="1.4" fill="#c88a48"/><rect x="815.5" y="135.9" width="12" height="2" fill="#8a8a80" opacity="0.3"/><rect x="746.2" y="129.2" width="1.4" height="1.4" fill="#c88a48"/><rect x="748.4" y="129.0" width="12" height="2" fill="#8a8a80" opacity="0.3"/><rect x="758.9" y="59.4" width="1.4" height="1.4" fill="#c88a48"/><rect x="761.1" y="59.2" width="8" height="2" fill="#8a8a80" opacity="0.3"/><rect x="849.3" y="58.5" width="1.4" height="1.4" fill="#c88a48"/><rect x="851.5" y="58.3" width="10" height="2" fill="#8a8a80" opacity="0.3"/><rect x="857.5" y="67.6" width="1.4" height="1.4" fill="#c88a48"/><rect x="859.7" y="67.4" width="6" height="2" fill="#8a8a80" opacity="0.3"/><rect x="693.6" y="94.6" width="1.4" height="1.4" fill="#c88a48"/><rect x="695.8" y="94.4" width="10" height="2" fill="#8a8a80" opacity="0.3"/><rect x="702.7" y="109.2" width="1.4" height="1.4" fill="#c88a48"/><rect x="704.9" y="109.0" width="6" height="2" fill="#8a8a80" opacity="0.3"/><rect x="919.8" y="24.1" width="1.4" height="1.4" fill="#c88a48"/><rect x="922.0" y="23.9" width="10" height="2" fill="#8a8a80" opacity="0.3"/><rect x="753.2" y="80.5" width="1.4" height="1.4" fill="#c88a48"/><rect x="755.4" y="80.3" width="12" height="2" fill="#8a8a80" opacity="0.3"/><rect x="817.4" y="102.4" width="1.4" height="1.4" fill="#c88a48"/><rect x="819.6" y="102.2" width="6" height="2" fill="#8a8a80" opacity="0.3"/><rect x="840.0" y="20.6" width="1.4" height="1.4" fill="#c88a48"/><rect x="842.2" y="20.4" width="10" height="2" fill="#8a8a80" opacity="0.3"/><rect x="882.3" y="66.9" width="1.4" height="1.4" fill="#c88a48"/><rect x="884.5" y="66.7" width="12" height="2" fill="#8a8a80" opacity="0.3"/><rect x="899.7" y="79.8" width="1.4" height="1.4" fill="#c88a48"/><rect x="901.9" y="79.6" width="12" height="2" fill="#8a8a80" opacity="0.3"/><rect x="757.3" y="134.5" width="1.4" height="1.4" fill="#c88a48"/><rect x="759.5" y="134.3" width="12" height="2" fill="#8a8a80" opacity="0.3"/><rect x="677.8" y="167.0" width="1.4" height="1.4" fill="#c88a48"/><rect x="680.0" y="166.8" width="8" height="2" fill="#8a8a80" opacity="0.3"/><rect x="907.7" y="110.8" width="1.4" height="1.4" fill="#c88a48"/><rect x="909.9" y="110.6" width="8" height="2" fill="#8a8a80" opacity="0.3"/><rect x="782.4" y="121.7" width="1.4" height="1.4" fill="#c88a48"/><rect x="784.6" y="121.5" width="8" height="2" fill="#8a8a80" opacity="0.3"/><rect x="736.6" y="94.0" width="1.4" height="1.4" fill="#c88a48"/><rect x="738.8" y="93.8" width="10" height="2" fill="#8a8a80" opacity="0.3"/><rect x="723.8" y="25.2" width="1.4" height="1.4" fill="#c88a48"/><rect x="726.0" y="25.0" width="8" height="2" fill="#8a8a80" opacity="0.3"/><rect x="724.2" y="56.3" width="1.4" height="1.4" fill="#c88a48"/><rect x="726.4" y="56.1" width="12" height="2" fill="#8a8a80" opacity="0.3"/><rect x="884.7" y="45.7" width="1.4" height="1.4" fill="#c88a48"/><rect x="886.9" y="45.5" width="10" height="2" fill="#8a8a80" opacity="0.3"/><rect x="663.1" y="94.7" width="1.4" height="1.4" fill="#c88a48"/><rect x="665.3" y="94.5" width="10" height="2" fill="#8a8a80" opacity="0.3"/><rect x="768.7" y="89.6" width="1.4" height="1.4" fill="#c88a48"/><rect x="770.9" y="89.4" width="12" height="2" fill="#8a8a80" opacity="0.3"/><rect x="832.0" y="20.9" width="1.4" height="1.4" fill="#c88a48"/><rect x="834.2" y="20.7" width="6" height="2" fill="#8a8a80" opacity="0.3"/><rect x="691.5" y="132.4" width="1.4" height="1.4" fill="#c88a48"/><rect x="693.7" y="132.2" width="6" height="2" fill="#8a8a80" opacity="0.3"/><rect x="662.1" y="39.3" width="1.4" height="1.4" fill="#c88a48"/><rect x="664.3" y="39.1" width="6" height="2" fill="#8a8a80" opacity="0.3"/><rect x="680.8" y="51.0" width="1.4" height="1.4" fill="#c88a48"/><rect x="683.0" y="50.8" width="12" height="2" fill="#8a8a80" opacity="0.3"/><rect x="701.8" y="60.2" width="1.4" height="1.4" fill="#c88a48"/><rect x="704.0" y="60.0" width="10" height="2" fill="#8a8a80" opacity="0.3"/><rect x="692.9" y="109.0" width="1.4" height="1.4" fill="#c88a48"/><rect x="695.1" y="108.8" width="12" height="2" fill="#8a8a80" opacity="0.3"/><rect x="790.7" y="72.6" width="1.4" height="1.4" fill="#c88a48"/><rect x="792.9" y="72.4" width="8" height="2" fill="#8a8a80" opacity="0.3"/><rect x="689.4" y="78.9" width="1.4" height="1.4" fill="#c88a48"/><rect x="691.6" y="78.7" width="10" height="2" fill="#8a8a80" opacity="0.3"/><rect x="790.3" y="151.3" width="1.4" height="1.4" fill="#c88a48"/><rect x="792.5" y="151.1" width="6" height="2" fill="#8a8a80" opacity="0.3"/><rect x="758.9" y="150.8" width="1.4" height="1.4" fill="#c88a48"/><rect x="761.1" y="150.6" width="6" height="2" fill="#8a8a80" opacity="0.3"/><rect x="865.2" y="69.7" width="1.4" height="1.4" fill="#c88a48"/><rect x="867.4" y="69.5" width="6" height="2" fill="#8a8a80" opacity="0.3"/><rect x="848.6" y="62.1" width="1.4" height="1.4" fill="#c88a48"/><rect x="850.8" y="61.9" width="10" height="2" fill="#8a8a80" opacity="0.3"/><rect x="905.4" y="81.6" width="1.4" height="1.4" fill="#c88a48"/><rect x="907.6" y="81.4" width="8" height="2" fill="#8a8a80" opacity="0.3"/><rect x="750.4" y="54.2" width="1.4" height="1.4" fill="#c88a48"/><rect x="752.6" y="54.0" width="8" height="2" fill="#8a8a80" opacity="0.3"/><rect x="860.3" y="54.9" width="1.4" height="1.4" fill="#c88a48"/><rect x="862.5" y="54.7" width="12" height="2" fill="#8a8a80" opacity="0.3"/><rect x="757.3" y="14.0" width="1.4" height="1.4" fill="#c88a48"/><rect x="759.5" y="13.8" width="6" height="2" fill="#8a8a80" opacity="0.3"/><rect x="713.9" y="133.3" width="1.4" height="1.4" fill="#c88a48"/><rect x="716.1" y="133.1" width="10" height="2" fill="#8a8a80" opacity="0.3"/><rect x="759.7" y="53.6" width="1.4" height="1.4" fill="#c88a48"/><rect x="761.9" y="53.4" width="8" height="2" fill="#8a8a80" opacity="0.3"/><rect x="788.0" y="77.9" width="1.4" height="1.4" fill="#c88a48"/><rect x="790.2" y="77.7" width="12" height="2" fill="#8a8a80" opacity="0.3"/><rect x="887.2" y="107.3" width="1.4" height="1.4" fill="#c88a48"/><rect x="889.4" y="107.1" width="10" height="2" fill="#8a8a80" opacity="0.3"/><rect x="876.3" y="25.5" width="1.4" height="1.4" fill="#c88a48"/><rect x="878.5" y="25.3" width="6" height="2" fill="#8a8a80" opacity="0.3"/><rect x="856.2" y="43.2" width="1.4" height="1.4" fill="#c88a48"/><rect x="858.4" y="43.0" width="8" height="2" fill="#8a8a80" opacity="0.3"/><rect x="669.4" y="130.3" width="1.4" height="1.4" fill="#c88a48"/><rect x="671.6" y="130.1" width="12" height="2" fill="#8a8a80" opacity="0.3"/><rect x="878.1" y="38.3" width="1.4" height="1.4" fill="#c88a48"/><rect x="880.3" y="38.1" width="12" height="2" fill="#8a8a80" opacity="0.3"/><rect x="809.0" y="35.1" width="1.4" height="1.4" fill="#c88a48"/><rect x="811.2" y="34.9" width="6" height="2" fill="#8a8a80" opacity="0.3"/><rect x="689.5" y="163.1" width="1.4" height="1.4" fill="#c88a48"/><rect x="691.7" y="162.9" width="8" height="2" fill="#8a8a80" opacity="0.3"/><rect x="883.4" y="51.7" width="1.4" height="1.4" fill="#c88a48"/><rect x="885.6" y="51.5" width="10" height="2" fill="#8a8a80" opacity="0.3"/><rect x="719.0" y="111.7" width="1.4" height="1.4" fill="#c88a48"/><rect x="721.2" y="111.5" width="10" height="2" fill="#8a8a80" opacity="0.3"/><rect x="731.5" y="94.7" width="1.4" height="1.4" fill="#c88a48"/><rect x="733.7" y="94.5" width="8" height="2" fill="#8a8a80" opacity="0.3"/><rect x="678.3" y="161.2" width="1.4" height="1.4" fill="#c88a48"/><rect x="680.5" y="161.0" width="12" height="2" fill="#8a8a80" opacity="0.3"/><rect x="839.5" y="176.7" width="1.4" height="1.4" fill="#c88a48"/><rect x="841.7" y="176.5" width="12" height="2" fill="#8a8a80" opacity="0.3"/><rect x="697.0" y="39.4" width="1.4" height="1.4" fill="#c88a48"/><rect x="699.2" y="39.2" width="6" height="2" fill="#8a8a80" opacity="0.3"/><rect x="702.1" y="37.3" width="1.4" height="1.4" fill="#c88a48"/><rect x="704.3" y="37.1" width="6" height="2" fill="#8a8a80" opacity="0.3"/><rect x="811.1" y="75.5" width="1.4" height="1.4" fill="#c88a48"/><rect x="813.3" y="75.3" width="12" height="2" fill="#8a8a80" opacity="0.3"/><rect x="872.2" y="30.0" width="1.4" height="1.4" fill="#c88a48"/><rect x="874.4" y="29.8" width="6" height="2" fill="#8a8a80" opacity="0.3"/><rect x="728.6" y="65.3" width="1.4" height="1.4" fill="#c88a48"/><rect x="730.8" y="65.1" width="6" height="2" fill="#8a8a80" opacity="0.3"/><rect x="798.1" y="124.3" width="1.4" height="1.4" fill="#c88a48"/><rect x="800.3" y="124.1" width="6" height="2" fill="#8a8a80" opacity="0.3"/><rect x="780.8" y="134.8" width="1.4" height="1.4" fill="#c88a48"/><rect x="783.0" y="134.6" width="8" height="2" fill="#8a8a80" opacity="0.3"/><rect x="804.9" y="107.0" width="1.4" height="1.4" fill="#c88a48"/><rect x="807.1" y="106.8" width="8" height="2" fill="#8a8a80" opacity="0.3"/><rect x="849.4" y="189.4" width="1.4" height="1.4" fill="#c88a48"/><rect x="851.6" y="189.2" width="10" height="2" fill="#8a8a80" opacity="0.3"/><rect x="716.3" y="100.6" width="1.4" height="1.4" fill="#c88a48"/><rect x="718.5" y="100.4" width="12" height="2" fill="#8a8a80" opacity="0.3"/><rect x="694.6" y="99.5" width="1.4" height="1.4" fill="#c88a48"/><rect x="696.8" y="99.3" width="6" height="2" fill="#8a8a80" opacity="0.3"/><rect x="719.0" y="70.7" width="1.4" height="1.4" fill="#c88a48"/><rect x="721.2" y="70.5" width="6" height="2" fill="#8a8a80" opacity="0.3"/><rect x="902.4" y="40.0" width="1.4" height="1.4" fill="#c88a48"/><rect x="904.6" y="39.8" width="10" height="2" fill="#8a8a80" opacity="0.3"/><rect x="921.3" y="53.5" width="1.4" height="1.4" fill="#c88a48"/><rect x="923.5" y="53.3" width="6" height="2" fill="#8a8a80" opacity="0.3"/><rect x="768.7" y="108.9" width="1.4" height="1.4" fill="#c88a48"/><rect x="770.9" y="108.7" width="8" height="2" fill="#8a8a80" opacity="0.3"/><rect x="705.3" y="97.3" width="1.4" height="1.4" fill="#c88a48"/><rect x="707.5" y="97.1" width="12" height="2" fill="#8a8a80" opacity="0.3"/><rect x="752.9" y="48.5" width="1.4" height="1.4" fill="#c88a48"/><rect x="755.1" y="48.3" width="10" height="2" fill="#8a8a80" opacity="0.3"/><rect x="686.7" y="83.8" width="1.4" height="1.4" fill="#c88a48"/><rect x="688.9" y="83.6" width="10" height="2" fill="#8a8a80" opacity="0.3"/><rect x="810.5" y="99.2" width="1.4" height="1.4" fill="#c88a48"/><rect x="812.7" y="99.0" width="6" height="2" fill="#8a8a80" opacity="0.3"/><rect x="765.0" y="115.1" width="1.4" height="1.4" fill="#c88a48"/><rect x="767.2" y="114.9" width="10" height="2" fill="#8a8a80" opacity="0.3"/><rect x="799.3" y="21.3" width="1.4" height="1.4" fill="#c88a48"/><rect x="801.5" y="21.1" width="8" height="2" fill="#8a8a80" opacity="0.3"/><rect x="922.4" y="29.7" width="1.4" height="1.4" fill="#c88a48"/><rect x="924.6" y="29.5" width="10" height="2" fill="#8a8a80" opacity="0.3"/><rect x="770.8" y="119.1" width="1.4" height="1.4" fill="#c88a48"/><rect x="773.0" y="118.9" width="12" height="2" fill="#8a8a80" opacity="0.3"/><rect x="849.7" y="26.5" width="1.4" height="1.4" fill="#c88a48"/><rect x="851.9" y="26.3" width="6" height="2" fill="#8a8a80" opacity="0.3"/><rect x="876.3" y="46.0" width="1.4" height="1.4" fill="#c88a48"/><rect x="878.5" y="45.8" width="6" height="2" fill="#8a8a80" opacity="0.3"/><rect x="734.1" y="11.5" width="1.4" height="1.4" fill="#c88a48"/><rect x="736.3" y="11.3" width="6" height="2" fill="#8a8a80" opacity="0.3"/><rect x="876.8" y="25.3" width="1.4" height="1.4" fill="#c88a48"/><rect x="879.0" y="25.1" width="8" height="2" fill="#8a8a80" opacity="0.3"/><rect x="679.9" y="186.6" width="1.4" height="1.4" fill="#c88a48"/><rect x="682.1" y="186.4" width="12" height="2" fill="#8a8a80" opacity="0.3"/><rect x="665.1" y="213.8" width="1.4" height="1.4" fill="#c88a48"/><rect x="667.3" y="213.6" width="12" height="2" fill="#8a8a80" opacity="0.3"/><rect x="910.3" y="63.4" width="1.4" height="1.4" fill="#c88a48"/><rect x="912.5" y="63.2" width="8" height="2" fill="#8a8a80" opacity="0.3"/><rect x="673.6" y="154.9" width="1.4" height="1.4" fill="#c88a48"/><rect x="675.8" y="154.7" width="6" height="2" fill="#8a8a80" opacity="0.3"/><rect x="921.7" y="62.2" width="1.4" height="1.4" fill="#c88a48"/><rect x="923.9" y="62.0" width="8" height="2" fill="#8a8a80" opacity="0.3"/><rect x="716.1" y="72.6" width="1.4" height="1.4" fill="#c88a48"/><rect x="718.3" y="72.4" width="10" height="2" fill="#8a8a80" opacity="0.3"/><rect x="804.3" y="50.6" width="1.4" height="1.4" fill="#c88a48"/><rect x="806.5" y="50.4" width="12" height="2" fill="#8a8a80" opacity="0.3"/><rect x="796.0" y="44.8" width="1.4" height="1.4" fill="#c88a48"/><rect x="798.2" y="44.6" width="10" height="2" fill="#8a8a80" opacity="0.3"/><rect x="799.8" y="58.9" width="1.4" height="1.4" fill="#c88a48"/><rect x="802.0" y="58.7" width="12" height="2" fill="#8a8a80" opacity="0.3"/><rect x="777.8" y="110.5" width="1.4" height="1.4" fill="#c88a48"/><rect x="780.0" y="110.3" width="12" height="2" fill="#8a8a80" opacity="0.3"/><rect x="922.0" y="71.7" width="1.4" height="1.4" fill="#c88a48"/><rect x="924.2" y="71.5" width="8" height="2" fill="#8a8a80" opacity="0.3"/><rect x="925.3" y="78.9" width="1.4" height="1.4" fill="#c88a48"/><rect x="927.5" y="78.7" width="8" height="2" fill="#8a8a80" opacity="0.3"/><rect x="770.5" y="79.9" width="1.4" height="1.4" fill="#c88a48"/><rect x="772.7" y="79.7" width="6" height="2" fill="#8a8a80" opacity="0.3"/><rect x="886.3" y="11.0" width="1.4" height="1.4" fill="#c88a48"/><rect x="888.5" y="10.8" width="10" height="2" fill="#8a8a80" opacity="0.3"/><rect x="777.4" y="19.5" width="1.4" height="1.4" fill="#c88a48"/><rect x="779.6" y="19.3" width="12" height="2" fill="#8a8a80" opacity="0.3"/><rect x="737.6" y="58.1" width="1.4" height="1.4" fill="#c88a48"/><rect x="739.8" y="57.9" width="10" height="2" fill="#8a8a80" opacity="0.3"/><rect x="674.1" y="46.4" width="1.4" height="1.4" fill="#c88a48"/><rect x="676.3" y="46.2" width="10" height="2" fill="#8a8a80" opacity="0.3"/><rect x="781.5" y="62.5" width="1.4" height="1.4" fill="#c88a48"/><rect x="783.7" y="62.3" width="10" height="2" fill="#8a8a80" opacity="0.3"/><rect x="745.0" y="81.8" width="1.4" height="1.4" fill="#c88a48"/><rect x="747.2" y="81.6" width="6" height="2" fill="#8a8a80" opacity="0.3"/><rect x="922.0" y="178.0" width="1.4" height="1.4" fill="#c88a48"/><rect x="924.2" y="177.8" width="9" height="2" fill="#8a8a80" opacity="0.3"/><rect x="947.0" y="177.0" width="1.4" height="1.4" fill="#c88a48"/><rect x="949.2" y="176.8" width="9" height="2" fill="#8a8a80" opacity="0.3"/><rect x="1032.0" y="177.0" width="1.4" height="1.4" fill="#c88a48"/><rect x="1034.2" y="176.8" width="9" height="2" fill="#8a8a80" opacity="0.3"/><rect x="1040.0" y="195.0" width="1.4" height="1.4" fill="#c88a48"/><rect x="1042.2" y="194.8" width="9" height="2" fill="#8a8a80" opacity="0.3"/><rect x="1032.0" y="214.0" width="1.4" height="1.4" fill="#c88a48"/><rect x="1034.2" y="213.8" width="9" height="2" fill="#8a8a80" opacity="0.3"/><rect x="905.0" y="208.0" width="1.4" height="1.4" fill="#c88a48"/><rect x="907.2" y="207.8" width="9" height="2" fill="#8a8a80" opacity="0.3"/><rect x="800.0" y="190.0" width="1.4" height="1.4" fill="#c88a48"/><rect x="802.2" y="189.8" width="9" height="2" fill="#8a8a80" opacity="0.3"/><rect x="760.0" y="208.0" width="1.4" height="1.4" fill="#c88a48"/><rect x="762.2" y="207.8" width="9" height="2" fill="#8a8a80" opacity="0.3"/><rect x="1000.0" y="150.0" width="1.4" height="1.4" fill="#c88a48"/><rect x="1002.2" y="149.8" width="9" height="2" fill="#8a8a80" opacity="0.3"/></g>
</g>
<!-- pie infographic -->
<path d="M684 21 H694 A10 10 0 0 1 684 31 Z" fill="#a0a0a0"/>
<g stroke-width="0.6" fill="none"><path d="M671 12 L684 20" stroke="#c0304a"/><path d="M684 20 L694 10" stroke="#3fa050"/><path d="M673 31 L684 20" stroke="#7a6040"/></g>
<g fill="#e03050" opacity="0.55"><rect x="661" y="5.5" width="9" height="1.5"/><rect x="664" y="9" width="4" height="1.5"/><rect x="664" y="12" width="4" height="1.5"/></g>
<g fill="#50c060" opacity="0.55"><rect x="697" y="5.5" width="9" height="1.5"/><rect x="699" y="9.5" width="4" height="1.2"/><rect x="699" y="13" width="4" height="1.2"/></g>
<g fill="#e07a20" opacity="0.55"><rect x="661" y="24" width="9" height="2"/><rect x="663" y="28" width="4" height="1.5"/><rect x="663" y="31" width="4" height="1.5"/></g>
<g fill="#8a9aaa" opacity="0.55"><rect x="697" y="25" width="8" height="1.3"/><rect x="699" y="29" width="5" height="1.2"/><rect x="699" y="33" width="5" height="1.2"/></g>
<!-- popup -->
<path d="M826 76 H877.3 V123.8 H854.9 L849 129 L846.9 123.8 H826 Z" fill="#fff"/>
<rect x="829" y="79.8" width="44.8" height="29.1" fill="#2b2d30"/>
<path d="M829 92 L850 84 L858 96 L843 108.9 H829 Z" fill="#5b5f63"/>
<path d="M845 108.9 L866 94 L873.8 100 V108.9 Z" fill="#a4a6a8"/><g fill="#3a3c3e"><circle cx="856" cy="104" r="0.7"/><circle cx="859" cy="102" r="0.7"/><circle cx="862" cy="100" r="0.7"/><circle cx="865" cy="98" r="0.7"/><circle cx="860" cy="105.5" r="0.7"/><circle cx="863" cy="103.5" r="0.7"/><circle cx="866" cy="101.5" r="0.7"/><circle cx="869" cy="99.5" r="0.7"/><circle cx="853" cy="106.5" r="0.7"/><circle cx="866" cy="106" r="0.7"/><circle cx="869" cy="104" r="0.7"/><circle cx="872" cy="102" r="0.7"/></g>
<path d="M862 79.8 H873.8 V92 Z" fill="#9a9c9e"/>
<circle cx="834" cy="99" r="2.6" fill="#d42020"/>
<rect x="842" y="95" width="6" height="3" fill="#d8d8d0"/>
<rect x="848" y="108" width="5" height="1.5" fill="#e8c020"/>
<g fill="#555"><rect x="835" y="110.8" width="33" height="1"/><rect x="835" y="113.8" width="17" height="1"/><rect x="835" y="116.8" width="10" height="1"/><rect x="835" y="119.5" width="9" height="0.7"/></g>
<!-- blue dot -->
<circle cx="865.3" cy="131.3" r="4.5" fill="#1a8ef0" opacity="0.35"/>
<circle cx="865.3" cy="131.3" r="2.6" fill="#2a9cff"/>
<circle cx="865.3" cy="131.3" r="1" fill="#a8d8ff"/>
</g>
<!-- battery icon -->
<rect x="1033.5" y="216.5" width="14" height="14" fill="#d9d9d9" stroke="#a8a8a8" stroke-width="1"/>
<rect x="1035" y="221" width="11" height="5" fill="#8fe04a" stroke="#3aa020" stroke-width="0.8"/>
</svg>
<div class="t" style="left:234px;top:285px">HINET智能网关</div>
<div class="t" style="left:234px;top:520px">HINET智能网关</div>
<div class="t" style="left:234px;top:653px">HINET智能网关</div>
<div class="t" style="left:53px;top:652px">设备/PLC</div>
<div class="t lbl" style="left:497px;top:213px;width:104px;height:17px;line-height:17px">2G/4G/有线网络</div>
<div class="t lbl" style="left:510px;top:427px;width:104px;height:17px;line-height:17px">2G/4G/有线网络</div>
<div class="t lbl" style="left:467px;top:587px;width:104px;height:17px;line-height:17px">2G/4G/有线网络</div>
<div class="t" style="left:888px;top:227px;letter-spacing:1px">监控大屏</div>
<div class="t" style="left:980px;top:431px;letter-spacing:0.5px"><span style="font-family:'Liberation Sans',sans-serif;font-weight:normal;font-size:14px;letter-spacing:0">PC</span>端应用</div>
<div class="t" style="left:979px;top:604px;letter-spacing:0.8px">移动端应用</div>
<div class="t" style="left:666px;top:477px;letter-spacing:0.8px">云端服务中心</div>
<div class="big" style="left:148px;top:723px">现场设备物联</div>
<div class="big" style="left:677px;top:558px">服务中心</div>
<div class="big" style="left:960px;top:723px">物联网应用</div>

</body></html>
